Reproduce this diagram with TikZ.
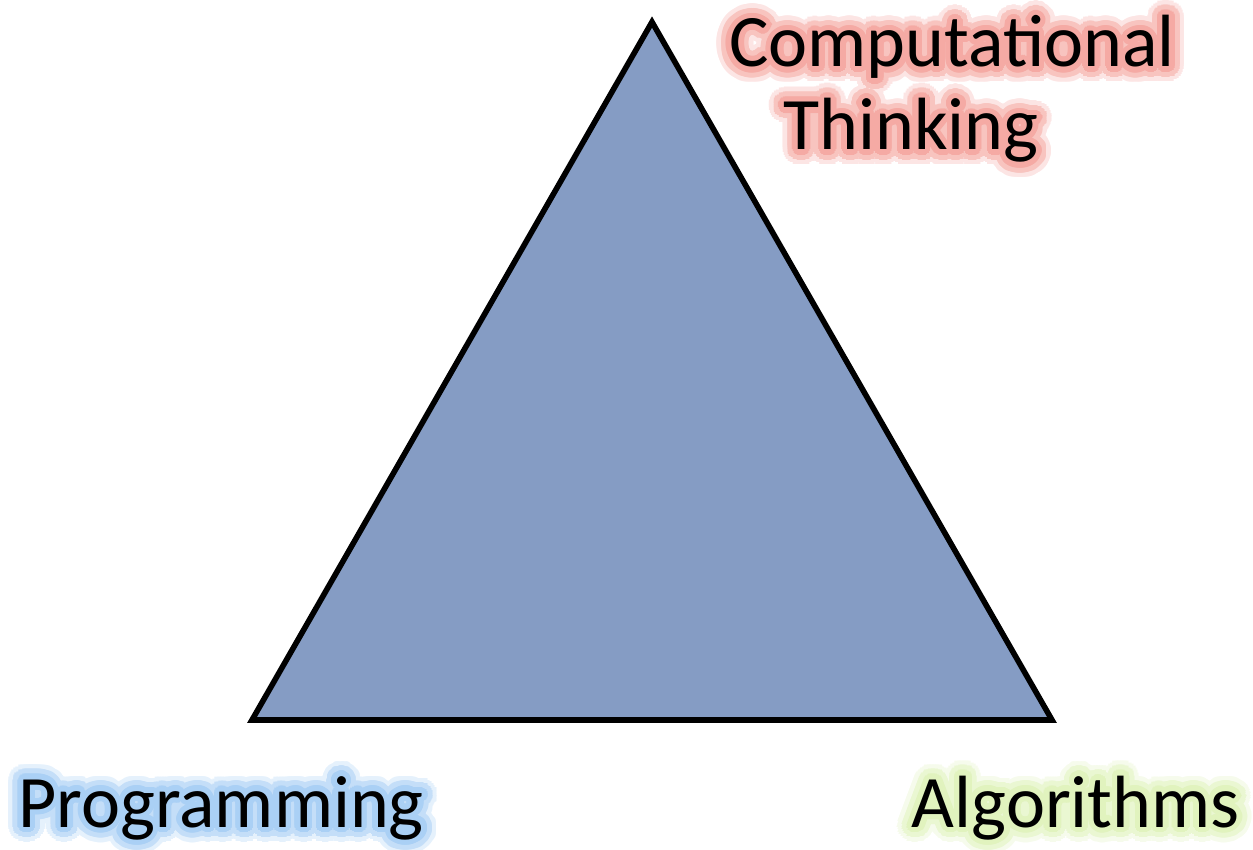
\documentclass[tikz,border=0pt]{standalone}
\usepackage{fontspec}
\setmainfont{Carlito}
\definecolor{trifill}{RGB}{133,156,196}
\definecolor{redglow}{RGB}{245,170,164}
\definecolor{blueglow}{RGB}{170,208,245}
\definecolor{greenglow}{RGB}{225,243,190}
\begin{document}
\begin{tikzpicture}
  [x=0.5pt,y=-0.5pt
  ,glowtext/.style={inner sep=0pt,font=\fontsize{37}{41.5}\selectfont,align=left}
  ]

  % Glowing label
  %
  % #1 - position
  % #2 - anchor
  % #3 - glow color
  % #4 - name
  % #5 - text
  \newcommand{\glowlabel}[5]{
    \foreach \a in {0,10,...,350} {
      \node[glowtext,anchor=#2,text=#3!30,shift={(\a:7.5pt)}] at (#1) {#5};
    }
    \foreach \a in {0,12,...,348} {
      \node[glowtext,anchor=#2,text=#3!70,shift={(\a:5.2pt)}] at (#1) {#5};
    }
    \foreach \a in {0,20,...,340} {
      \node[glowtext,anchor=#2,text=#3,shift={(\a:2.8pt)}] at (#1) {#5};
    }
    \node[glowtext,anchor=#2] (#4) at (#1) {#5};
  }

  \useasboundingbox (0,0) rectangle (1253,850);

  % triangle
  \coordinate (top) at (652,22);
  \coordinate (left) at (252,720);
  \coordinate (right) at (1052,720);
  \draw[fill=trifill,line width=2.8pt,line join=miter] (top) -- (left) -- (right) -- cycle;

  % labels
  \glowlabel{729,150}{base west}{redglow}{ct}{Computational\\\hspace*{27pt}Thinking}
  \glowlabel{18,827}{base west}{blueglow}{prog}{Programming}
  \glowlabel{1240,827}{base east}{greenglow}{alg}{Algorithms}

\end{tikzpicture}
\end{document}
